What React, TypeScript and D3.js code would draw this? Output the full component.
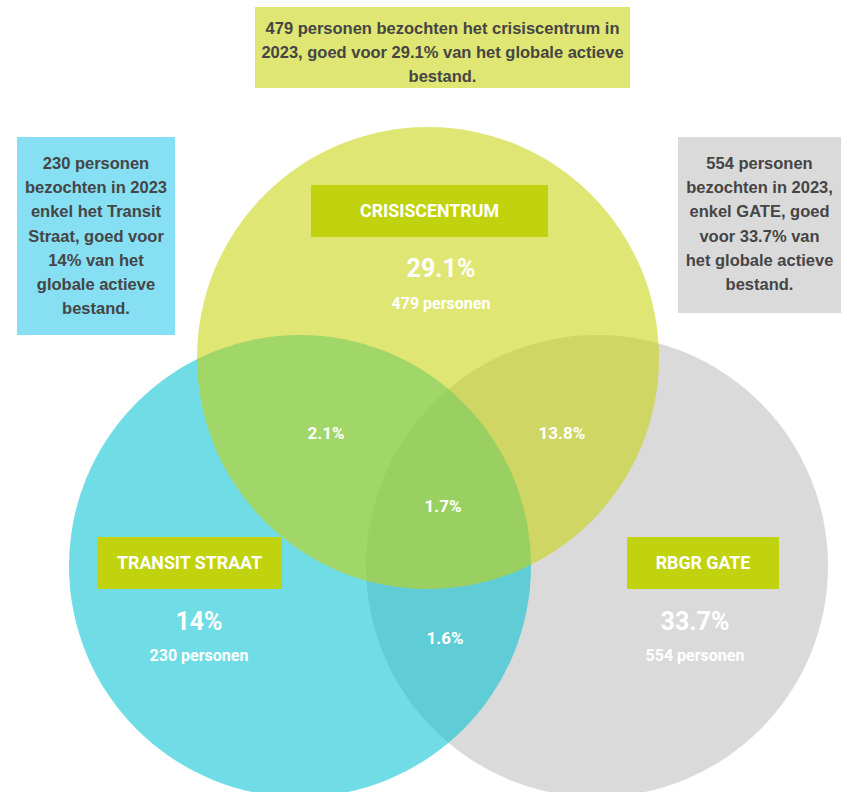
import React, { useEffect, useRef } from "react";
import * as d3 from "d3";

// ---- Data ----
const setNames = ["CRISISCENTRUM", "TRANSIT STRAAT", "RBGR GATE"];
const setKeys = ["crisis", "transit", "gate"];
const setPercents = ["29.1%", "14%", "33.7%"];
const setCounts = ["479 personen", "230 personen", "554 personen"];
const overlapKeys = ["crisis+transit", "crisis+gate", "all", "transit+gate"];
const overlapPercents = ["2.1%", "13.8%", "1.7%", "1.6%"];
const noteTexts = [
  ["479 personen bezochten het crisiscentrum in", "2023, goed voor 29.1% van het globale actieve", "bestand."],
  ["230 personen", "bezochten in 2023", "enkel het Transit", "Straat, goed voor", "14% van het", "globale actieve", "bestand."],
  ["554 personen", "bezochten in 2023,", "enkel GATE, goed", "voor 33.7% van", "het globale actieve", "bestand."],
];

// ---- Layout (pixel geometry, separate from data) ----
const W = 847;
const H = 792;
const R = 231;
const circleCenters: Record<string, [number, number]> = {
  crisis: [428, 358],
  transit: [300, 566],
  gate: [597, 566],
};
const drawOrder = ["gate", "transit", "crisis"];
const circleColor = d3.scaleOrdinal<string, string>().domain(setKeys).range(["#c6d305", "#00c3d3", "#bdbdbd"]);
const labelBoxes: Record<string, { x: number; y: number; w: number; h: number; tx: number }> = {
  crisis: { x: 311, y: 185, w: 237, h: 52, tx: 441 },
  transit: { x: 97, y: 537, w: 185, h: 52, tx: 199 },
  gate: { x: 627, y: 537, w: 152, h: 52, tx: 695 },
};
const statY: Record<string, [number, number]> = {
  crisis: [268, 303],
  transit: [621, 655],
  gate: [621, 655],
};
const overlapPos: Record<string, [number, number]> = {
  "crisis+transit": [326, 433],
  "crisis+gate": [562, 433],
  all: [443, 506],
  "transit+gate": [445, 638],
};
const noteBoxes = [
  { x: 255, y: 7, w: 375, h: 81, fill: "#dfe673", y0: 28 },
  { x: 17, y: 137, w: 158, h: 198, fill: "#86dff2", y0: 163 },
  { x: 678, y: 137, w: 163, h: 176, fill: "#dadada", y0: 163 },
];

export default function App() {
  const ref = useRef<SVGSVGElement>(null);

  useEffect(() => {
    const svg = d3.select(ref.current);
    svg.selectAll("*").remove();

    // circles
    svg
      .append("g")
      .selectAll("circle")
      .data(drawOrder)
      .join("circle")
      .attr("cx", (k) => circleCenters[k][0])
      .attr("cy", (k) => circleCenters[k][1])
      .attr("r", R)
      .attr("fill", (k) => circleColor(k))
      .attr("fill-opacity", 0.56);

    // set label boxes + text
    const g = svg.append("g").attr("font-family", "Roboto, sans-serif").attr("font-weight", 700).attr("fill", "#fff");
    setKeys.forEach((k, i) => {
      const b = labelBoxes[k];
      g.append("rect").attr("x", b.x).attr("y", b.y).attr("width", b.w).attr("height", b.h).attr("fill", "#c1d20e");
      g.append("text")
        .attr("x", b.x + b.w / 2)
        .attr("y", b.y + b.h / 2)
        .attr("dy", "0.36em")
        .attr("text-anchor", "middle")
        .attr("font-size", 17.8)
        .attr("fill", "#fff")
        .text(setNames[i]);
      g.append("text")
        .attr("x", b.tx)
        .attr("y", statY[k][0])
        .attr("dy", "0.36em")
        .attr("text-anchor", "middle")
        .attr("font-size", 25)
        .attr("fill", "#fff")
        .text(setPercents[i]);
      g.append("text")
        .attr("x", b.tx)
        .attr("y", statY[k][1])
        .attr("dy", "0.36em")
        .attr("text-anchor", "middle")
        .attr("font-size", 16)
        .attr("fill", "#fff")
        .text(setCounts[i]);
    });

    // overlap labels
    g.selectAll("text.ov")
      .data(overlapKeys)
      .join("text")
      .attr("class", "ov")
      .attr("x", (k) => overlapPos[k][0])
      .attr("y", (k) => overlapPos[k][1])
      .attr("dy", "0.36em")
      .attr("text-anchor", "middle")
      .attr("font-size", 17)
      .text((_, i) => overlapPercents[i]);

    // note boxes
    const n = svg.append("g").attr("font-family", "'Liberation Sans', Arial, sans-serif").attr("font-weight", 700);
    noteBoxes.forEach((b, i) => {
      n.append("rect").attr("x", b.x).attr("y", b.y).attr("width", b.w).attr("height", b.h).attr("fill", b.fill);
      n.append("g")
        .selectAll("text")
        .data(noteTexts[i])
        .join("text")
        .attr("x", b.x + b.w / 2)
        .attr("y", (_, j) => b.y0 + j * 24.2)
        .attr("dy", "0.36em")
        .attr("text-anchor", "middle")
        .attr("font-size", 16.5)
        .attr("fill", "#454545")
        .text((d) => d);
    });
  }, []);

  return (
    <div style={{ position: "absolute", left: 0, top: 0, width: W, height: H }}>
      <svg ref={ref} width={W} height={H} style={{ display: "block" }} />
    </div>
  );
}
